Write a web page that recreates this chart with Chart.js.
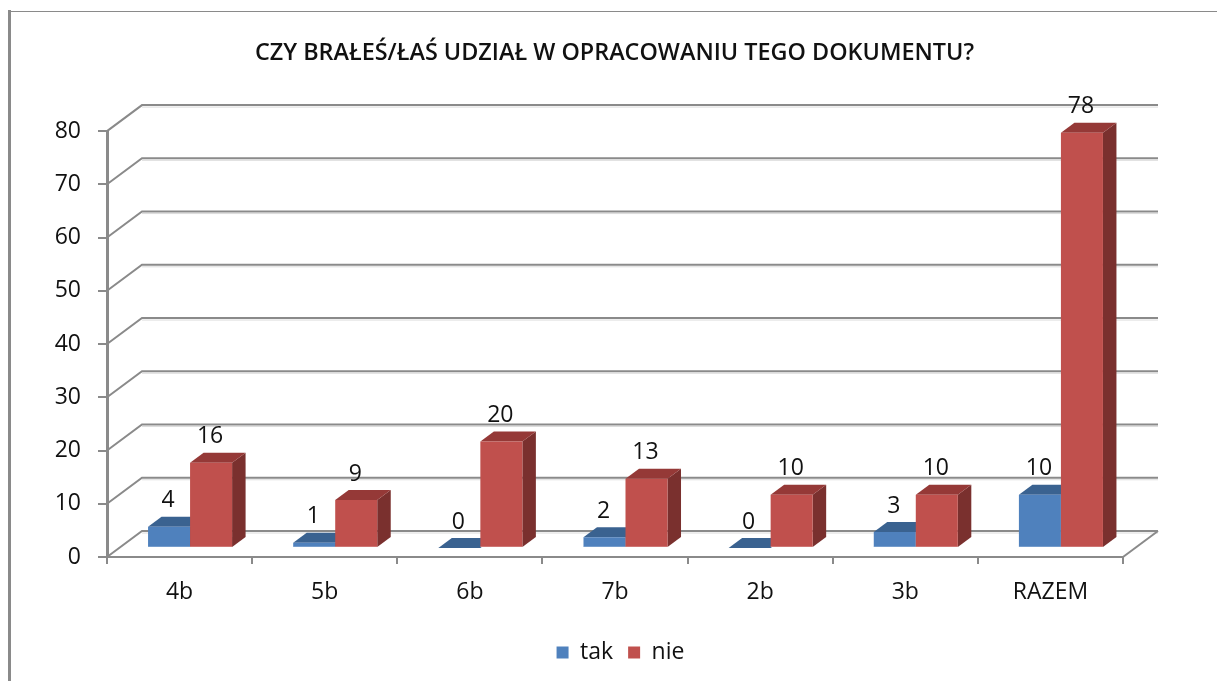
<!DOCTYPE html>
<html><head><meta charset="utf-8">
<style>html,body{margin:0;padding:0;background:#fff}canvas{display:block}</style>
<script src="https://cdn.jsdelivr.net/npm/chart.js@4/dist/chart.umd.js"></script>
</head><body>
<canvas id="c" width="1217" height="681"></canvas>
<script>
const categories = ["4b","5b","6b","7b","2b","3b","RAZEM"];
const tak = [4,1,0,2,0,3,10];
const nie = [16,9,20,13,10,10,78];
const seriesNames = ["tak","nie"];
const titleText = "CZY BRAŁEŚ/ŁAŚ UDZIAŁ W OPRACOWANIU TEGO DOKUMENTU?";

const FONT = '"Open Sans", sans-serif';
const INK = '#111';
const LINE = '#8a8a8a';
const WALL = {dx:35, dy:26};
const PLANE = {dx:10.5, dy:9};
const BAR = {dx:13.5, dy:10};
const SKIN = [{front:'#4F81BD', top:'#3A6290', side:'#2F5078'},
              {front:'#C0504D', top:'#953937', side:'#7A302E'}];

function poly(ctx, pts, fill){
  ctx.beginPath();
  pts.forEach((p,i)=> i ? ctx.lineTo(p[0],p[1]) : ctx.moveTo(p[0],p[1]));
  ctx.closePath(); ctx.fillStyle = fill; ctx.fill();
}
const scene = {
  id:'scene',
  beforeDraw(chart){
    const ctx = chart.ctx;
    ctx.save();
    ctx.fillStyle = '#fff'; ctx.fillRect(0,0,chart.width,chart.height);
    ctx.fillStyle = '#8a8a8a';
    ctx.fillRect(8,10,3,chart.height-10);
    ctx.fillRect(8,11,chart.width-8,1);
    ctx.restore();
  },
  afterLayout(chart){
    chart.legend.left += 6; chart.legend.right += 6;
  },
  beforeDatasetsDraw(chart){
    const ctx = chart.ctx, x = chart.scales.x, y = chart.scales.y;
    ctx.save();
    ctx.lineCap = 'butt';
    y.ticks.forEach(t=>{
      const py = y.getPixelForValue(t.value);
      const bx0 = x.left+WALL.dx, bx1 = x.right+WALL.dx, by = py-WALL.dy;
      ctx.strokeStyle = '#dcdcdc'; ctx.lineWidth = 1;
      ctx.beginPath(); ctx.moveTo(bx0,by+2); ctx.lineTo(bx1,by+2); ctx.stroke();
      ctx.strokeStyle = LINE; ctx.lineWidth = 2;
      ctx.beginPath(); ctx.moveTo(x.left,py); ctx.lineTo(bx0,by); ctx.lineTo(bx1,by); ctx.stroke();
    });
    const p0 = y.getPixelForValue(0);
    ctx.strokeStyle = LINE; ctx.lineWidth = 2;
    ctx.beginPath(); ctx.moveTo(x.right,p0); ctx.lineTo(x.right+WALL.dx,p0-WALL.dy); ctx.stroke();
    ctx.restore();

    ctx.save();
    ctx.translate(PLANE.dx,-PLANE.dy);
    chart.data.datasets.forEach((ds,i)=>{
      const skin = SKIN[i];
      chart.getDatasetMeta(i).data.forEach(el=>{
        const l = el.x-el.width/2, r = el.x+el.width/2, t = el.y, b = el.base;
        poly(ctx,[[r,t],[r+BAR.dx,t-BAR.dy],[r+BAR.dx,b-BAR.dy],[r,b]],skin.side);
        poly(ctx,[[l,t],[l+BAR.dx,t-BAR.dy],[r+BAR.dx,t-BAR.dy],[r,t]],skin.top);
        el.draw(ctx);
        if (b-t > 1) { ctx.fillStyle = 'rgba(255,255,255,0.22)'; ctx.fillRect(l,b-1,r-l,1); }
      });
    });
    ctx.restore();

    ctx.save();
    ctx.fillStyle = INK; ctx.font = '23px '+FONT;
    ctx.textAlign = 'center'; ctx.textBaseline = 'middle';
    chart.data.datasets.forEach((ds,i)=>{
      chart.getDatasetMeta(i).data.forEach((el,j)=>{
        ctx.fillText(String(ds.data[j]), el.x+PLANE.dx-1, el.y-PLANE.dy-26);
      });
    });
    ctx.restore();
    return false;
  }
};

new Chart(document.getElementById('c'),{
  type:'bar',
  data:{labels:categories,datasets:[
    {label:seriesNames[0],data:tak,backgroundColor:SKIN[0].front,borderWidth:0,categoryPercentage:0.579,barPercentage:1},
    {label:seriesNames[1],data:nie,backgroundColor:SKIN[1].front,borderWidth:0,categoryPercentage:0.579,barPercentage:1}
  ]},
  plugins:[scene],
  options:{
    responsive:false, animation:false, events:[],
    layout:{padding:{left:12,right:0,top:0,bottom:7}},
    plugins:{
      tooltip:{enabled:false},
      title:{display:true,text:titleText,color:INK,align:'center',
        font:{family:FONT,size:23.4,weight:'600',lineHeight:1.2},
        padding:{top:39,bottom:64}},
      legend:{position:'bottom',align:'center',
        labels:{color:INK,font:{family:FONT,size:23},boxWidth:12,boxHeight:12,padding:15}}
    },
    scales:{
      x:{
        grid:{drawOnChartArea:false,drawTicks:true,tickLength:7,color:LINE,lineWidth:2,offset:true},
        border:{display:true,color:LINE,width:2},
        ticks:{color:INK,font:{family:FONT,size:23},padding:15,maxRotation:0},
        afterFit(s){ s.height = 69; }
      },
      y:{
        min:0,max:80,
        grid:{drawOnChartArea:false,drawTicks:true,tickLength:9,color:LINE,lineWidth:2},
        border:{display:true,color:LINE,width:3},
        ticks:{stepSize:10,color:INK,font:{family:FONT,size:23},padding:17},
        afterFit(s){ s.width = 95; }
      },
      y2:{
        position:'right',display:true,
        grid:{display:false},border:{display:false},ticks:{display:false},
        afterFit(s){ s.width = 94; }
      }
    }
  }
});
</script>
</body></html>
